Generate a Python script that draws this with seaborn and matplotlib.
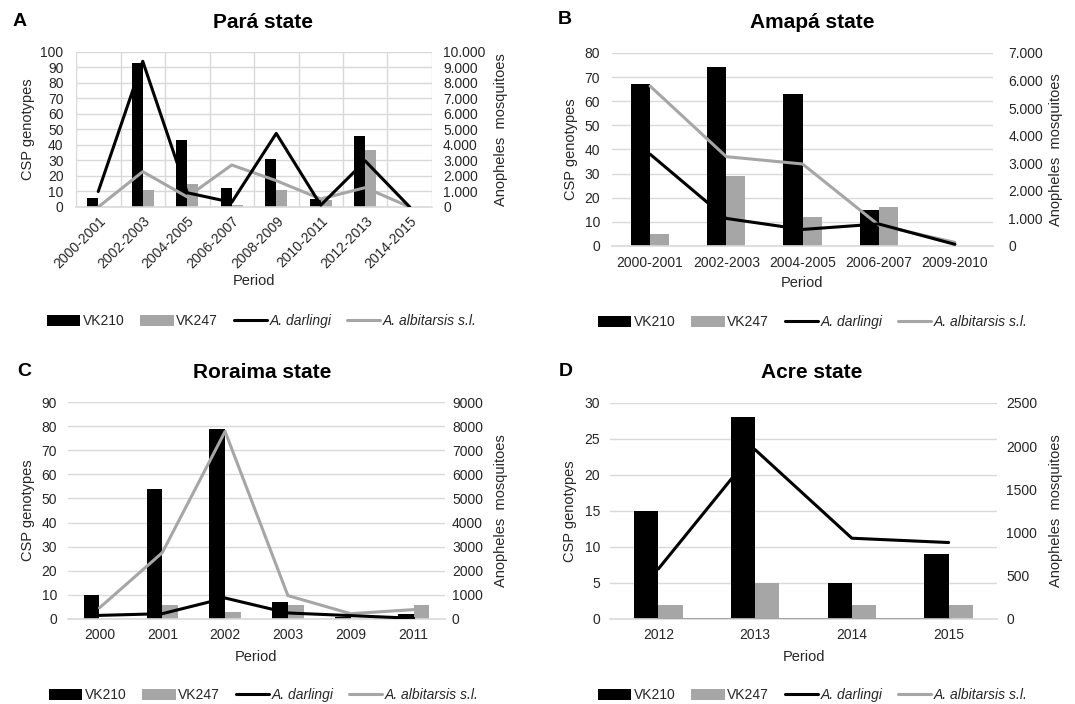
import numpy as np
import pandas as pd
import matplotlib
matplotlib.use("Agg")
import matplotlib.pyplot as plt
import seaborn as sns
from matplotlib.patches import Patch
from matplotlib.lines import Line2D

# ---------------- data ----------------
para_periods = ["2000-2001", "2002-2003", "2004-2005", "2006-2007",
                "2008-2009", "2010-2011", "2012-2013", "2014-2015"]
para_vk210 = [6, 93, 43, 12, 31, 5, 46, 0]
para_vk247 = [0, 11, 15, 1.5, 11, 4.5, 37, 0]
para_darlingi = [1000, 9400, 920, 300, 4750, 120, 2970, 0]
para_albitarsis = [0, 2280, 650, 2710, 1700, 520, 1250, 0]
para_right_labels = ["0", "1.000", "2.000", "3.000", "4.000", "5.000",
                     "6.000", "7.000", "8.000", "9.000", "10.000"]

amapa_periods = ["2000-2001", "2002-2003", "2004-2005", "2006-2007", "2009-2010"]
amapa_vk210 = [67, 74, 63, 15, 0]
amapa_vk247 = [5, 29, 12, 16, 0]
amapa_darlingi = [3330, 1000, 600, 800, 60]
amapa_albitarsis = [5800, 3240, 2975, 760, 130]
amapa_right_labels = ["0", "1.000", "2.000", "3.000", "4.000", "5.000",
                      "6.000", "7.000"]

roraima_periods = ["2000", "2001", "2002", "2003", "2009", "2011"]
roraima_vk210 = [10, 54, 79, 7, 1, 2]
roraima_vk247 = [0, 6, 3, 6, 0, 6]
roraima_darlingi = [150, 220, 870, 250, 140, 30]
roraima_albitarsis = [460, 2750, 7780, 970, 220, 390]
roraima_right_labels = ["0", "1000", "2000", "3000", "4000", "5000",
                        "6000", "7000", "8000", "9000"]

acre_periods = ["2012", "2013", "2014", "2015"]
acre_vk210 = [15, 28, 5, 9]
acre_vk247 = [2, 5, 2, 2]
acre_darlingi = [580, 1960, 935, 885]
acre_albitarsis = [0, 0, 0, 0]
acre_right_labels = ["0", "500", "1000", "1500", "2000", "2500"]

titles = ["Pará state", "Amapá state", "Roraima state", "Acre state"]
letters = ["A", "B", "C", "D"]
series_labels = ["VK210", "VK247", "A. darlingi", "A. albitarsis s.l."]

# ---------------- style ----------------
sns.set_theme(style="white")
plt.rcParams["font.family"] = ["Liberation Sans", "DejaVu Sans"]

BLACK = "#000000"
GREY = "#a6a6a6"
GRID = "#d9d9d9"
TXT = "#262626"

W, H = 1075, 704
fig = plt.figure(figsize=(W / 100, H / 100), dpi=100)


def rect(l, r, t, b):
    return [l / W, 1 - b / H, (r - l) / W, (b - t) / H]


def panel(box, periods, vk210, vk247, darl, albi, lmax, lstep, rmax, rstep,
          rlabels, vgrid=False, rotate=False, lpad=8, rpad=8, xpad=7,
          ylab_x=-0.12, rlab_x=1.16, xlab_y=-0.19):
    ax = fig.add_axes(box)
    n = len(periods)
    df = pd.DataFrame({
        "Period": periods * 2,
        "Genotype": ["VK210"] * n + ["VK247"] * n,
        "Count": list(vk210) + list(vk247),
    })
    sns.barplot(data=df, x="Period", y="Count", hue="Genotype",
                order=periods, hue_order=["VK210", "VK247"],
                palette={"VK210": BLACK, "VK247": GREY}, width=0.5,
                saturation=1, linewidth=0, errorbar=None, legend=False, ax=ax)
    ax.set_ylim(0, lmax)
    ax.set_yticks(np.arange(0, lmax + 0.1, lstep))
    ax.set_xlim(-0.5, n - 0.5)
    ax.set_axisbelow(True)
    ax.yaxis.grid(True, color=GRID, lw=1.0)
    if vgrid:
        ax.set_xticks(np.arange(-0.5, n, 0.5), minor=True)
        ax.xaxis.grid(True, which="minor", color=GRID, lw=1.0)
        ax.tick_params(axis="x", which="minor", length=0)
    for s in ["top", "right", "left"]:
        ax.spines[s].set_visible(False)
    ax.spines["bottom"].set_color(GRID)
    ax.spines["bottom"].set_linewidth(1.2)
    ax.tick_params(axis="y", length=0, pad=lpad, labelsize=10, labelcolor=TXT)
    ax.tick_params(axis="x", length=0, pad=xpad, labelsize=10, labelcolor=TXT)
    if rotate:
        for lab in ax.get_xticklabels():
            lab.set_rotation(45)
            lab.set_ha("right")
            lab.set_rotation_mode("anchor")
    ax.set_ylabel("CSP genotypes", fontsize=10.5, color=TXT)
    ax.yaxis.set_label_coords(ylab_x, 0.5)
    ax.set_xlabel("Period", fontsize=10.5, color=TXT)
    ax.xaxis.set_label_coords(0.5, xlab_y)
    ax.xaxis.label.set_va("center")

    ax2 = ax.twinx()
    x = np.arange(n)
    sns.lineplot(x=x, y=albi, ax=ax2, color=GREY, linewidth=2.2, legend=False)
    sns.lineplot(x=x, y=darl, ax=ax2, color=BLACK, linewidth=2.2, legend=False)
    ax2.set_xlim(-0.5, n - 0.5)
    ax2.set_ylim(0, rmax)
    ax2.set_yticks(np.arange(0, rmax + 1, rstep))
    ax2.set_yticklabels(rlabels)
    for s in ax2.spines.values():
        s.set_visible(False)
    ax2.tick_params(axis="y", length=0, pad=rpad, labelsize=10, labelcolor=TXT)
    ax2.set_ylabel("Anopheles  mosquitoes", fontsize=10.5, color=TXT,
                   rotation=90)
    ax2.yaxis.set_label_coords(rlab_x, 0.5)
    ax2.grid(False)
    return ax, ax2


panel(rect(76, 432, 52, 207), para_periods, para_vk210, para_vk247,
      para_darlingi, para_albitarsis, 100, 10, 10000, 1000, para_right_labels,
      vgrid=True, rotate=True, lpad=9, rpad=8, xpad=5,
      ylab_x=-0.115, rlab_x=1.174, xlab_y=-0.48)
panel(rect(612, 993, 53, 246), amapa_periods, amapa_vk210, amapa_vk247,
      amapa_darlingi, amapa_albitarsis, 80, 10, 7000, 1000, amapa_right_labels,
      lpad=8.5, rpad=11, xpad=7, ylab_x=-0.089, rlab_x=1.147, xlab_y=-0.192)
panel(rect(68, 445, 402, 619), roraima_periods, roraima_vk210, roraima_vk247,
      roraima_darlingi, roraima_albitarsis, 90, 10, 9000, 1000,
      roraima_right_labels, lpad=8, rpad=5, xpad=6.5,
      ylab_x=-0.0875, rlab_x=1.130, xlab_y=-0.175)
panel(rect(610, 997, 403, 619), acre_periods, acre_vk210, acre_vk247,
      acre_darlingi, acre_albitarsis, 30, 5, 2500, 500, acre_right_labels,
      lpad=7, rpad=6.5, xpad=6.5, ylab_x=-0.085, rlab_x=1.134, xlab_y=-0.176)

# titles and panel letters
title_pos = [(263, 22), (812, 23), (262, 372), (812, 372)]
letter_pos = [(20, 21), (565, 20), (24, 371), (566, 371)]
for t, (tx, ty) in zip(titles, title_pos):
    fig.text(tx / W, 1 - ty / H, t, ha="center", va="center",
             fontsize=15, fontweight="bold", color="black")
for L, (lx, ly) in zip(letters, letter_pos):
    fig.text(lx / W, 1 - ly / H, L, ha="center", va="center",
             fontsize=14, fontweight="bold", color="black")

# legends
handles = [Patch(facecolor=BLACK, edgecolor="none"),
           Patch(facecolor=GREY, edgecolor="none"),
           Line2D([], [], color=BLACK, lw=2.2),
           Line2D([], [], color=GREY, lw=2.2)]
legend_pos = [(262, 321), (813, 322), (264, 695), (813, 695)]
for lx, ly in legend_pos:
    leg = fig.legend(handles, series_labels, loc="center",
                     bbox_to_anchor=(lx / W, 1 - ly / H), ncol=4,
                     frameon=False, fontsize=10, handlelength=2.4,
                     handleheight=0.85, handletextpad=0.2, columnspacing=1.1,
                     borderpad=0, borderaxespad=0)
    for txt in leg.get_texts():
        txt.set_color(TXT)
    leg.get_texts()[2].set_style("italic")
    leg.get_texts()[3].set_style("italic")

fig.savefig("out.png", dpi=100, facecolor="white")
